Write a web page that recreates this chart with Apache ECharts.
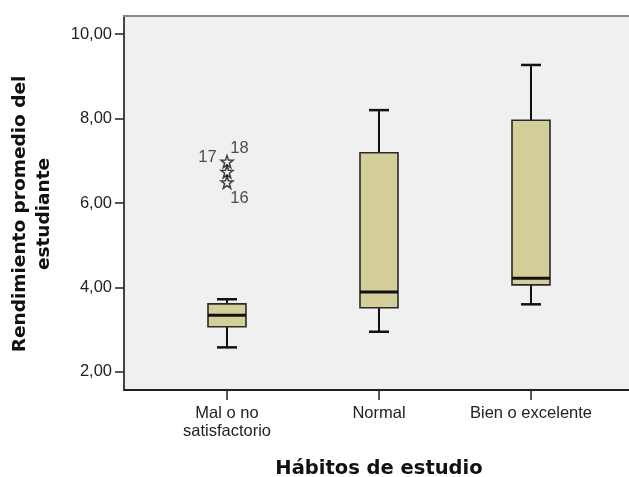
<!DOCTYPE html>
<html>
<head>
<meta charset="utf-8">
<script src="https://cdn.jsdelivr.net/npm/echarts@6/dist/echarts.min.js"></script>
<style>
html,body{margin:0;padding:0;background:#fff;}
#chart{width:629px;height:477px;}
</style>
</head>
<body>
<div id="chart"></div>
<script>
// ---- data ----
const categories = ['Mal o no\nsatisfactorio', 'Normal', 'Bien o excelente'];
const whiskerLow  = [2.58, 2.95, 3.60];
const quartile1   = [3.07, 3.52, 4.06];
const medians     = [3.34, 3.89, 4.22];
const quartile3   = [3.61, 7.19, 7.96];
const whiskerHigh = [3.72, 8.20, 9.27];
const outlierCategory = [0, 0, 0];
const outlierValues = [6.98, 6.74, 6.49];
const outlierIds = ['17', '18', '16'];
const yTickValues = [2, 4, 6, 8, 10];
const xTitle = 'Hábitos de estudio';
const yTitle = 'Rendimiento promedio del\nestudiante';

// ---- chart ----
const Y_MIN = 1.57, Y_MAX = 10.43;
const boxData = categories.map((c, i) => [i, whiskerLow[i], quartile1[i], medians[i], quartile3[i], whiskerHigh[i]]);
const outlierData = outlierValues.map((v, i) => ({ value: [outlierCategory[i], v], name: outlierIds[i] }));
const labelOffsets = [[-22, -6], [10, -25], [10, 14]];
const labelFont = 'Liberation Sans, Arial, sans-serif';

const starPath = 'path://M50,0 L61.76,33.82 L97.55,34.55 L69.02,56.18 L79.39,90.45 L50,70 L20.61,90.45 L30.98,56.18 L2.45,34.55 L38.24,33.82 Z';

const chart = echarts.init(document.getElementById('chart'), null, { renderer: 'canvas' });
chart.setOption({
  backgroundColor: '#ffffff',
  animation: false,
  grid: [
    { left: 124, top: 16, right: -2, bottom: 87, show: true, backgroundColor: '#f0f0f0', borderWidth: 0,
      containLabel: false, outerBoundsMode: 'none' },
    { left: 151, top: 16, width: 456, bottom: 87, containLabel: false, outerBoundsMode: 'none' }
  ],
  xAxis: [
    { gridIndex: 0, type: 'value', position: 'bottom', min: 0, max: 1,
      axisLine: { show: true, onZero: false, lineStyle: { color: '#222', width: 2 } },
      axisTick: { show: false }, axisLabel: { show: false }, splitLine: { show: false } },
    { gridIndex: 1, type: 'category', data: categories, boundaryGap: true, position: 'bottom',
      axisLine: { show: false },
      axisTick: { show: true, alignWithLabel: true, interval: 0, length: 10, lineStyle: { color: '#222', width: 1.5 } },
      axisLabel: { show: true, interval: 0, hideOverlap: false, margin: 14, fontFamily: labelFont, fontSize: 16.5, color: '#222', lineHeight: 18 },
      name: xTitle, nameLocation: 'middle', nameGap: 69,
      nameTextStyle: { fontFamily: 'DejaVu Sans', fontWeight: 'bold', fontSize: 19.5, color: '#111' } },
    { gridIndex: 0, type: 'value', position: 'top', min: 0, max: 1,
      axisLine: { show: true, onZero: false, lineStyle: { color: '#888', width: 2 } },
      axisTick: { show: false }, axisLabel: { show: false }, splitLine: { show: false } }
  ],
  yAxis: [
    { gridIndex: 0, type: 'value', min: Y_MIN, max: Y_MAX,
      axisLine: { show: true, onZero: false, lineStyle: { color: '#444', width: 2 } },
      axisTick: { show: true, length: 9, customValues: yTickValues, lineStyle: { color: '#222', width: 1.5 } },
      axisLabel: { show: true, margin: 12, customValues: yTickValues, fontFamily: labelFont, fontSize: 16.5, color: '#222',
        formatter: v => v.toFixed(2).replace('.', ',') },
      splitLine: { show: false } },
    { gridIndex: 1, type: 'value', min: Y_MIN, max: Y_MAX, show: false, splitLine: { show: false } }
  ],
  graphic: [
    { type: 'text', x: 32, y: 214, rotation: Math.PI / 2,
      style: { text: yTitle, align: 'center', verticalAlign: 'middle', fontFamily: 'DejaVu Sans', fontWeight: 'bold', fontSize: 18.5, lineHeight: 24, fill: '#111' } }
  ],
  series: [
    {
      type: 'custom', xAxisIndex: 1, yAxisIndex: 1, data: boxData,
      renderItem: function (params, api) {
        const x = api.value(0);
        const pLow = api.coord([x, api.value(1)]);
        const pQ1 = api.coord([x, api.value(2)]);
        const pMed = api.coord([x, api.value(3)]);
        const pQ3 = api.coord([x, api.value(4)]);
        const pHigh = api.coord([x, api.value(5)]);
        const cx = pMed[0];
        const half = 19, cap = 10;
        const lineStyle = { stroke: '#111', lineWidth: 2 };
        return {
          type: 'group',
          children: [
            { type: 'line', shape: { x1: cx, y1: pQ3[1], x2: cx, y2: pHigh[1] }, style: lineStyle },
            { type: 'line', shape: { x1: cx, y1: pQ1[1], x2: cx, y2: pLow[1] }, style: lineStyle },
            { type: 'line', shape: { x1: cx - cap, y1: pHigh[1], x2: cx + cap, y2: pHigh[1] }, style: { stroke: '#111', lineWidth: 2.5 } },
            { type: 'line', shape: { x1: cx - cap, y1: pLow[1], x2: cx + cap, y2: pLow[1] }, style: { stroke: '#111', lineWidth: 2.5 } },
            { type: 'rect', shape: { x: cx - half, y: pQ3[1], width: half * 2, height: pQ1[1] - pQ3[1] },
              style: { fill: '#d4ce99', stroke: '#2a2a2a', lineWidth: 1.6 } },
            { type: 'line', shape: { x1: cx - half, y1: pMed[1], x2: cx + half, y2: pMed[1] }, style: { stroke: '#111', lineWidth: 3 } }
          ]
        };
      }
    },
    {
      type: 'scatter', xAxisIndex: 1, yAxisIndex: 1,
      data: outlierData.map((d, i) => Object.assign({}, d, {
        label: { show: true, position: labelOffsets[i], formatter: '{b}' }
      })),
      symbol: starPath, symbolSize: 12,
      itemStyle: { color: 'rgba(0,0,0,0)', borderColor: '#111', borderWidth: 1.5 },
      label: { fontFamily: labelFont, fontSize: 16.5, color: '#222' }
    }
  ]
});
</script>
</body>
</html>
